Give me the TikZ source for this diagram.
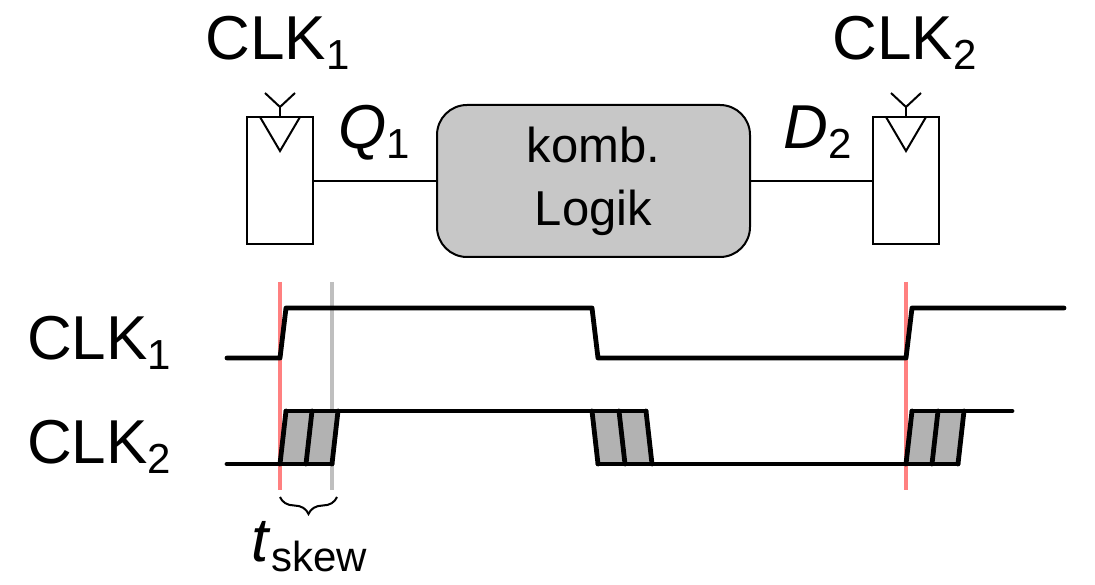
\documentclass[tikz,border=0pt]{standalone}
\usepackage{fontspec}
\setmainfont{Liberation Sans}
\usetikzlibrary{decorations,decorations.pathreplacing}
\colorlet{launchred}{red!50}
\colorlet{skewgray}{black!25}
\colorlet{logikgray}{black!22}
\colorlet{bandgray}{black!30}
\newcommand{\biglab}[2]{{\fontsize{62}{62}\selectfont #1\raisebox{-10pt}{\fontsize{42}{42}\selectfont #2}}}
\tikzset{
    ffbox/.style={draw, line width=2pt, fill=white, inner sep=0pt, minimum width=66pt, minimum height=127pt},
    logikbox/.style={draw, line width=2pt, fill=logikgray, rounded corners=30pt, inner sep=0pt, minimum width=313pt, minimum height=152pt, align=center, font=\fontsize{49}{63}\selectfont},
    thinline/.style={line width=2pt},
    signal/.style={line width=4.8pt, line cap=round, line join=round},
    lab/.style={anchor=base west, inner sep=0pt}
}
\begin{document}
\begin{tikzpicture}[x=1pt,y=-1pt]
    \useasboundingbox (0,0) rectangle (1095,585);
    % flip-flops and logic
    \node[ffbox] (ffa) at (280,181) {};
    \node[ffbox] (ffb) at (906,181) {};
    \node[logikbox] (logik) at (593.5,181) {komb.\\Logik};
    \draw[thinline] (ffa) -- (logik);
    \draw[thinline] (logik) -- (ffb);
    \foreach \ff/\x in {ffa/280,ffb/906}{
        \draw[thinline] (\x-20,117) -- (\x,151) -- (\x+20,117);
        \draw[thinline] (\ff.north) -- (\x,107);
        \draw[thinline] (\x-15,93) -- (\x,107) -- (\x+15,93);
    }
    % labels
    \node[lab] (clkatop) at (205.5,60) {\biglab{CLK}{1}};
    \node[lab] (clkbtop) at (832.5,60) {\biglab{CLK}{2}};
    \node[lab] (qone) at (338,149) {\biglab{\textit{Q}}{1}};
    \node[lab] (dtwo) at (783.5,149) {\biglab{\textit{D}}{2}};
    \node[lab] (clkarow) at (27,359.5) {\biglab{CLK}{1}};
    \node[lab] (clkbrow) at (27,463.5) {\biglab{CLK}{2}};
    % clock edges
    \draw[launchred, line width=3.5pt] (280,282) -- (280,490);
    \draw[launchred, line width=3.5pt] (906,282) -- (906,490);
    \draw[skewgray, line width=3.5pt] (332,282) -- (332,490);
    % uncertainty bands
    \foreach \x in {280,906}{
        \fill[bandgray] (\x,464) -- (\x+6,411) -- (\x+58,411) -- (\x+52,464) -- cycle;
    }
    \fill[bandgray] (598,464) -- (592,411) -- (646,411) -- (651,464) -- cycle;
    \foreach \x in {280,306,332,906,932,958}{
        \draw[signal] (\x,464) -- (\x+6,411);
    }
    \foreach \x in {592,619,646}{
        \draw[signal] (\x,411) -- (\x+6,464);
    }
    % waveforms
    \draw[signal] (227,358) -- (280,358) -- (286,308) -- (592,308) -- (598,358) -- (906,358) -- (912,308) -- (1064,308);
    \draw[signal] (227,464) -- (332,464);
    \draw[signal] (286,411) -- (646,411);
    \draw[signal] (598,464) -- (958,464);
    \draw[signal] (912,411) -- (1012,411);
    % skew brace
    \coordinate (bracea) at (280,497);
    \coordinate (braceb) at (337,497);
    \draw[thinline, decorate, decoration={brace, amplitude=17pt}] (braceb) -- (bracea);
    \node[lab] (tskew) at (251.5,561) {\biglab{\textit{t}}{skew}};
\end{tikzpicture}
\end{document}
